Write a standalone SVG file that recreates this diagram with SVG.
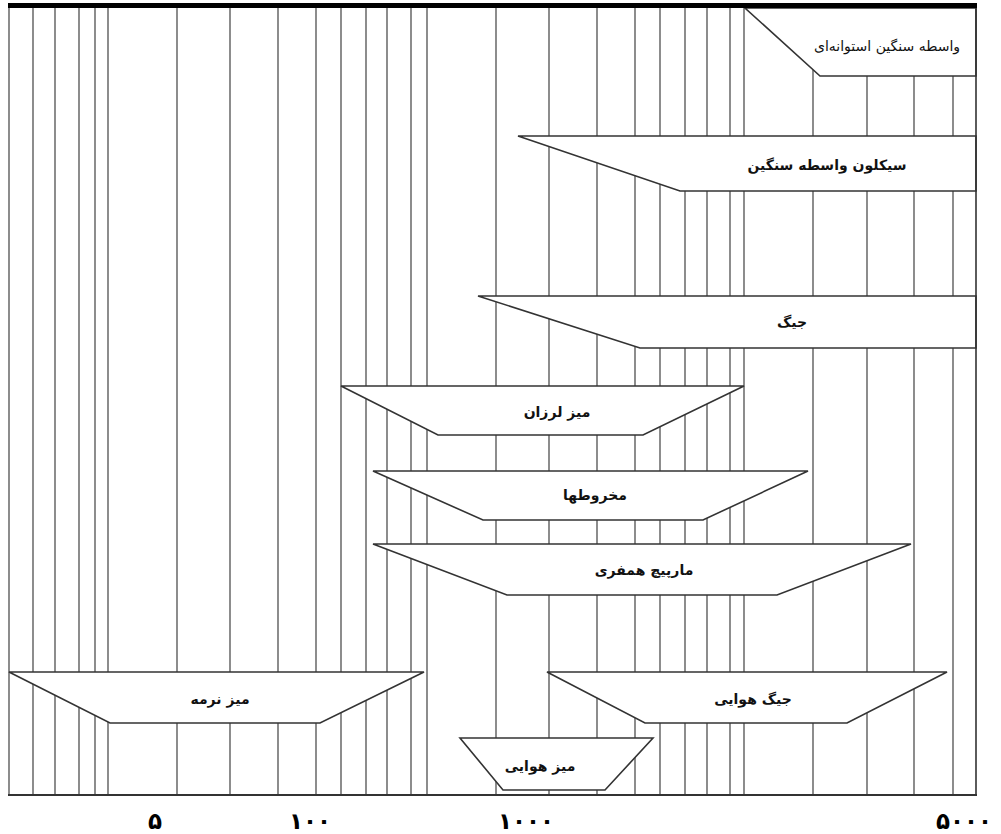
<svg xmlns="http://www.w3.org/2000/svg" width="1001" height="834" viewBox="0 0 1001 834">
<style>
.grid line{stroke:#707070;stroke-width:1.6}
.shape{fill:#fff;stroke:#333;stroke-width:1.6;stroke-linejoin:miter}
.lbl{font-family:"DejaVu Sans","Noto Sans",sans-serif;font-size:14px;font-weight:bold;fill:#111;text-anchor:middle;dominant-baseline:central}
.lbl.n{font-weight:normal}
.ax{font-family:"DejaVu Sans","Noto Sans",sans-serif;font-size:23px;font-weight:bold;fill:#000;text-anchor:middle;letter-spacing:2px}
</style>
<rect x="0" y="0" width="1001" height="834" fill="#fff"/>
<g id="grid" class="grid">
<line x1="9" y1="5" x2="9" y2="795"/>
<line x1="33" y1="5" x2="33" y2="795"/>
<line x1="55" y1="5" x2="55" y2="795"/>
<line x1="79" y1="5" x2="79" y2="795"/>
<line x1="95" y1="5" x2="95" y2="795"/>
<line x1="108" y1="5" x2="108" y2="795"/>
<line x1="177" y1="5" x2="177" y2="795"/>
<line x1="230" y1="5" x2="230" y2="795"/>
<line x1="278" y1="5" x2="278" y2="795"/>
<line x1="316" y1="5" x2="316" y2="795"/>
<line x1="341" y1="5" x2="341" y2="795"/>
<line x1="366" y1="5" x2="366" y2="795"/>
<line x1="387" y1="5" x2="387" y2="795"/>
<line x1="411" y1="5" x2="411" y2="795"/>
<line x1="427" y1="5" x2="427" y2="795"/>
<line x1="496" y1="5" x2="496" y2="795"/>
<line x1="549" y1="5" x2="549" y2="795"/>
<line x1="597" y1="5" x2="597" y2="795"/>
<line x1="635" y1="5" x2="635" y2="795"/>
<line x1="660" y1="5" x2="660" y2="795"/>
<line x1="685" y1="5" x2="685" y2="795"/>
<line x1="707" y1="5" x2="707" y2="795"/>
<line x1="730" y1="5" x2="730" y2="795"/>
<line x1="744" y1="5" x2="744" y2="795"/>
<line x1="813" y1="5" x2="813" y2="795"/>
<line x1="867" y1="5" x2="867" y2="795"/>
<line x1="914" y1="5" x2="914" y2="795"/>
<line x1="953" y1="5" x2="953" y2="795"/>
</g>
<g id="node-top">
<polygon class="shape" points="745,8 976,8 976,76 820,76"/>
<text class="lbl n" x="887" y="46">واسطه سنگین استوانه‌ای</text>
</g>
<g id="node-cyclone">
<polygon class="shape" points="518,136 976,136 976,191 680,191"/>
<text class="lbl" x="827" y="165">سیکلون واسطه سنگین</text>
</g>
<g id="node-jig">
<polygon class="shape" points="478,296 976,296 976,348 640,348"/>
<text class="lbl" x="792" y="322">جیگ</text>
</g>
<g id="node-shaking-table">
<polygon class="shape" points="341,386 744,386 643,435 438,435"/>
<text class="lbl" x="557" y="412">میز لرزان</text>
</g>
<g id="node-cones">
<polygon class="shape" points="373,471 808,471 703,520 483,520"/>
<text class="lbl" x="595" y="495">مخروطها</text>
</g>
<g id="node-spiral">
<polygon class="shape" points="373,544 911,544 777,595 507,595"/>
<text class="lbl" x="644" y="570">مارپیچ همفری</text>
</g>
<g id="node-slime-table">
<polygon class="shape" points="9,672 424,672 320,723 110,723"/>
<text class="lbl" x="220" y="699">میز نرمه</text>
</g>
<g id="node-air-jig">
<polygon class="shape" points="547,672 947,672 847,723 645,723"/>
<text class="lbl" x="753" y="699">جیگ هوایی</text>
</g>
<g id="node-air-table">
<polygon class="shape" points="460,738 653,738 605,790 503,790"/>
<text class="lbl" x="540" y="766">میز هوایی</text>
</g>
<g id="frame">
<line x1="976" y1="5" x2="976" y2="796" stroke="#333" stroke-width="1.6"/>
<line x1="8" y1="795" x2="977" y2="795" stroke="#333" stroke-width="2"/>
<rect x="8" y="3" width="969" height="5" fill="#000"/>
</g>
<g id="axis">
<text class="ax" x="155" y="829">۵</text>
<text class="ax" x="310" y="829">۱۰۰</text>
<text class="ax" x="526" y="829">۱۰۰۰</text>
<text class="ax" x="964" y="829">۵۰۰۰</text>
</g>
</svg>
